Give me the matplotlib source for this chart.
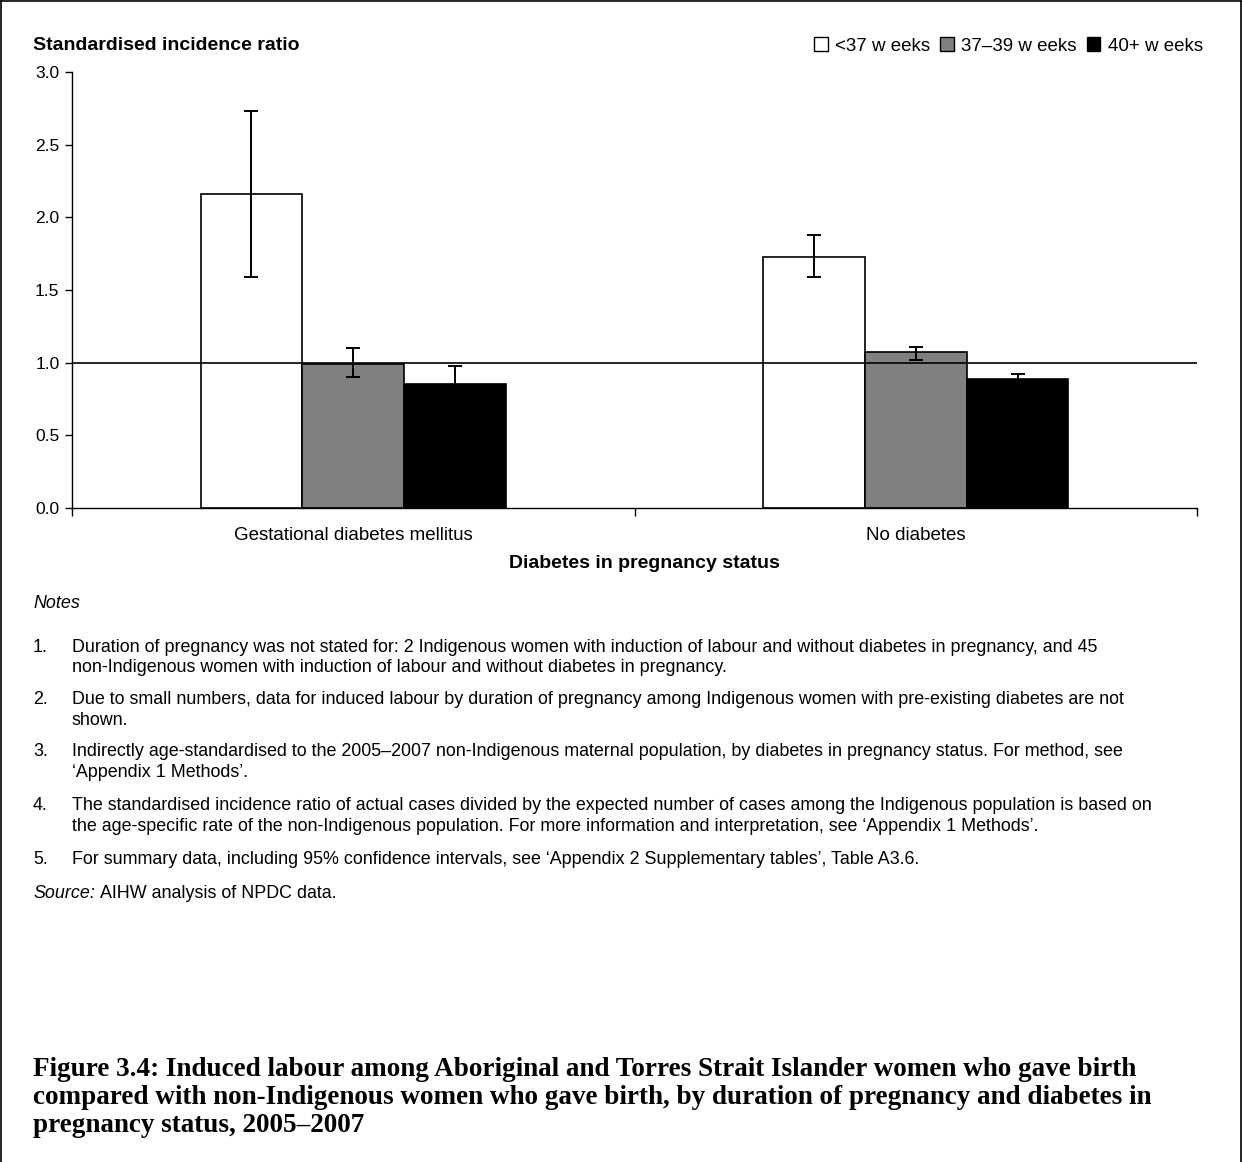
"""Induced labour SIR by duration of pregnancy and diabetes status."""

import matplotlib

matplotlib.use("Agg")
import matplotlib.pyplot as plt
import numpy as np
from matplotlib.patches import Patch

categories = ["Gestational diabetes mellitus", "No diabetes"]
series_names = ["<37 w eeks", "37\u201339 w eeks", "40+ w eeks"]
sir_values = {
    "<37 w eeks": [2.16, 1.73],
    "37\u201339 w eeks": [0.99, 1.07],
    "40+ w eeks": [0.85, 0.89],
}
ci_lower = {
    "<37 w eeks": [1.59, 1.59],
    "37\u201339 w eeks": [0.90, 1.02],
    "40+ w eeks": [0.73, 0.87],
}
ci_upper = {
    "<37 w eeks": [2.73, 1.88],
    "37\u201339 w eeks": [1.10, 1.11],
    "40+ w eeks": [0.98, 0.92],
}
y_ticks = [0.0, 0.5, 1.0, 1.5, 2.0, 2.5, 3.0]

notes = [
    ("1.", ["Duration of pregnancy was not stated for: 2 Indigenous women with induction of labour and without diabetes in pregnancy, and 45",
            "non-Indigenous women with induction of labour and without diabetes in pregnancy."]),
    ("2.", ["Due to small numbers, data for induced labour by duration of pregnancy among Indigenous women with pre-existing diabetes are not",
            "shown."]),
    ("3.", ["Indirectly age-standardised to the 2005\u20132007 non-Indigenous maternal population, by diabetes in pregnancy status. For method, see",
            "\u2018Appendix 1 Methods\u2019."]),
    ("4.", ["The standardised incidence ratio of actual cases divided by the expected number of cases among the Indigenous population is based on",
            "the age-specific rate of the non-Indigenous population. For more information and interpretation, see \u2018Appendix 1 Methods\u2019."]),
    ("5.", ["For summary data, including 95% confidence intervals, see \u2018Appendix 2 Supplementary tables\u2019, Table A3.6."]),
]
title_lines = [
    "Figure 3.4: Induced labour among Aboriginal and Torres Strait Islander women who gave birth",
    "compared with non-Indigenous women who gave birth, by duration of pregnancy and diabetes in",
    "pregnancy status, 2005\u20132007",
]

colors = ["white", "#808080", "black"]

plt.rcParams["font.family"] = ["Liberation Sans", "DejaVu Sans"]

W, H = 1242, 1162
fig = plt.figure(figsize=(W / 100, H / 100), dpi=100)


def fx(px):
    return px / W


def fy(py):
    return 1 - py / H


ax = fig.add_axes([fx(72), fy(508), fx(1197) - fx(72), fy(72) - fy(508)])

x = np.arange(len(categories))
bar_w = 0.181
for i, name in enumerate(series_names):
    pos = x + (i - 1) * bar_w
    vals = np.array(sir_values[name])
    lo = vals - np.array(ci_lower[name])
    hi = np.array(ci_upper[name]) - vals
    ax.bar(pos, vals, width=bar_w, color=colors[i], edgecolor="black",
           linewidth=1.2, zorder=2)
    ax.errorbar(pos, vals, yerr=[lo, hi], fmt="none", ecolor="black",
                elinewidth=1.4, capsize=5, capthick=1.4, zorder=3)

ax.axhline(1.0, color="black", linewidth=1.2, zorder=4)

ax.set_xlim(-0.5, 1.5)
ax.set_ylim(0, 3.0)
ax.set_yticks(y_ticks)
ax.set_yticklabels([f"{v:.1f}" for v in y_ticks], fontsize=12.5)
ax.set_xticks([-0.5, 0.5, 1.5])
ax.set_xticklabels([])
ax.set_xticks(x, minor=True)
ax.set_xticklabels(categories, minor=True, fontsize=13.5)
ax.tick_params(axis="x", which="major", direction="out", length=6, width=1)
ax.tick_params(axis="x", which="minor", length=0, pad=14)
ax.tick_params(axis="y", direction="out", length=5, width=1, pad=4)
for side in ["top", "right"]:
    ax.spines[side].set_visible(False)
for side in ["left", "bottom"]:
    ax.spines[side].set_linewidth(1)

fig.text(fx(33), fy(45), "Standardised incidence ratio", fontsize=14,
         fontweight="bold", va="center", ha="left")
fig.text(fx(644), fy(564), "Diabetes in pregnancy status", fontsize=14,
         fontweight="bold", va="center", ha="center")

handles = [Patch(facecolor=c, edgecolor="black", linewidth=1) for c in colors]
fig.legend(handles, series_names, loc="center right",
           bbox_to_anchor=(fx(1212), fy(46)), ncol=3, frameon=False,
           fontsize=13.5, handlelength=0.7, handleheight=0.7,
           handletextpad=0.4, columnspacing=0.55, borderpad=0)

note_size = 12.9
fig.text(fx(33), fy(604), "Notes", fontsize=note_size, style="italic", va="center")
note_y = [647, 700, 752, 806, 859]
for (num, lines), y in zip(notes, note_y):
    fig.text(fx(33), fy(y), num, fontsize=note_size, va="center", ha="left")
    for k, line in enumerate(lines):
        fig.text(fx(72), fy(y + 20.5 * k), line, fontsize=note_size,
                 va="center", ha="left")

src = fig.text(fx(33), fy(893), "Source:", fontsize=note_size, style="italic",
               va="center")
renderer = fig.canvas.get_renderer()
src_right = src.get_window_extent(renderer).x1
fig.text((src_right + 5) / W, fy(893), "AIHW analysis of NPDC data.",
         fontsize=note_size, va="center")

for k, line in enumerate(title_lines):
    fig.text(fx(33), fy(1069 + 28 * k), line, fontsize=19.5, fontweight="bold",
             family=["Liberation Serif", "DejaVu Serif"], va="center", ha="left")

# page border
fig.add_artist(plt.Line2D([fx(1), fx(1)], [0, fy(1)], color="black", linewidth=1.2))
fig.add_artist(plt.Line2D([fx(1), fx(1241)], [fy(1), fy(1)], color="black", linewidth=1.2))
fig.add_artist(plt.Line2D([fx(1241), fx(1241)], [0, fy(1)], color="black", linewidth=1.2))

fig.savefig("out.png", dpi=100)
plt.close(fig)
